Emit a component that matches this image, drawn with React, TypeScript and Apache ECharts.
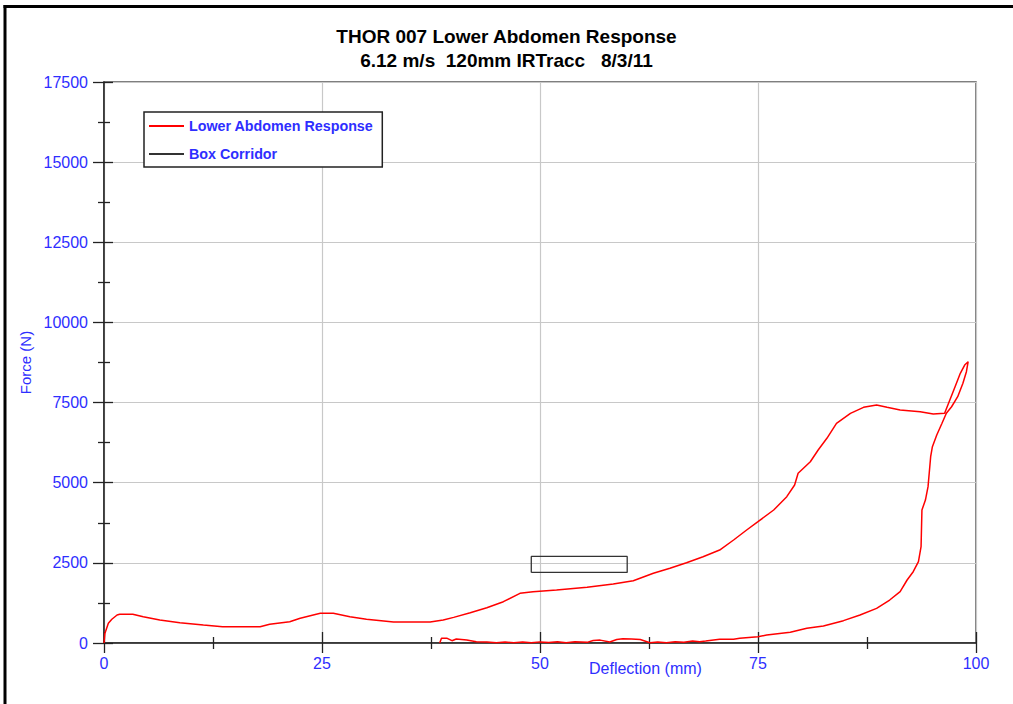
import React, { useEffect, useRef } from "react";
import * as echarts from "echarts";

const titleText = "THOR 007 Lower Abdomen Response";
const subtitleText = "6.12 m/s  120mm IRTracc   8/3/11";
const xAxisTitle = "Deflection (mm)";
const yAxisTitle = "Force (N)";
const seriesNames = ["Lower Abdomen Response", "Box Corridor"];

// Lower abdomen response: loading then unloading path (mm, N)
const responseDeflection = [
  0, 0.1, 0.5, 0.9, 1.5, 1.8, 3.3, 4.5, 6.4, 8.7, 11.4, 13.6, 17.9, 19.0, 21.3, 22.5, 24.8, 26.3,
  28.2, 30.1, 33.2, 37.4, 38.9, 40.1, 42.0, 43.9, 45.8, 47.7, 49.2, 51.9, 55.4, 58.4, 60.7, 63.0,
  64.9, 66.8, 68.7, 70.6, 72.2, 73.7, 75.0, 76.8, 78.3, 79.2, 79.6, 81.0, 81.9, 82.9, 84.0, 85.6,
  87.1, 88.6, 89.8, 91.3, 93.6, 95.1, 96.4, 97.0, 97.6, 98.2, 98.7, 99.1,
  98.9, 98.5, 97.9, 97.2, 96.6, 96.1, 95.5, 95.0, 94.8, 94.7, 94.5, 94.2, 93.8, 93.7, 93.4, 92.8,
  92.1, 91.3, 90.1, 88.6, 86.7, 84.8, 82.5, 80.6, 78.7, 76.0, 75.0, 72.9, 72.2, 70.6, 69.0, 68.3,
  67.5, 66.5, 65.5, 64.5, 63.5, 62.6, 61.5, 60.5, 59.5, 58.8, 58.0, 56.9, 56.1, 55.4, 54.0, 53.0,
  52.0, 51.0, 50.0, 49.0, 48.0, 47.0, 46.0, 45.0, 43.9, 42.7, 41.6, 40.4, 39.9, 39.3, 38.7, 38.5,
];
const responseForce = [
  0, 300, 614, 740, 873, 895, 895, 820, 717, 633, 561, 508, 508, 583, 665, 770, 926, 926,
  820, 739, 655, 655, 717, 800, 945, 1101, 1289, 1550, 1600, 1653, 1737, 1840, 1943, 2174,
  2330, 2505, 2692, 2900, 3213, 3525, 3785, 4149, 4565, 4928, 5293, 5655, 6020, 6385, 6853, 7165,
  7352, 7424, 7352, 7268, 7215, 7143, 7165, 7580, 7995, 8412, 8671, 8775,
  8463, 8100, 7683, 7370, 7165, 6853, 6488, 6124, 5811, 5499, 4876, 4460, 4149, 3004, 2536, 2224,
  1965, 1600, 1341, 1081, 873, 697, 530, 458, 333, 250, 197, 146, 115, 115, 60, 40,
  60, 20, 40, 10, 30, 10, 110, 125, 130, 110, 30, 90, 80, 20, 40, 10,
  40, 15, 35, 10, 30, 10, 30, 10, 30, 40, 94, 125, 72, 150, 147, 0,
];

// Box corridor rectangle (mm, N)
const corridorDeflection = [49, 60, 60, 49, 49];
const corridorForce = [2200, 2200, 2700, 2700, 2200];

const xTicks = { min: 0, max: 100, interval: 25 };
const yTicks = { min: 0, max: 17500, interval: 2500 };

const BLUE = "#2e2eff";
const FONT = "'Liberation Sans', Arial, sans-serif";

export default function App() {
  const ref = useRef<HTMLDivElement>(null);

  useEffect(() => {
    if (!ref.current) return;
    const chart = echarts.init(ref.current, null, { renderer: "svg" });

    const responseData = responseDeflection.map((x, i) => [x, responseForce[i]]);
    const corridorData = corridorDeflection.map((x, i) => [x, corridorForce[i]]);

    const axisLineStyle = { color: "#222", width: 1.5 };
    const tickStyle = { color: "#222", width: 1.3 };
    const plain = (v: number) => String(v);

    const baseX = {
      type: "value" as const,
      min: xTicks.min,
      max: xTicks.max,
      interval: xTicks.interval,
      position: "bottom" as const,
    };
    const baseY = {
      type: "value" as const,
      min: yTicks.min,
      max: yTicks.max,
      interval: yTicks.interval,
      position: "left" as const,
    };

    chart.setOption({
      animation: false,
      backgroundColor: "#ffffff",
      title: {
        text: titleText,
        subtext: subtitleText,
        left: "center",
        top: 26,
        padding: 0,
        itemGap: 4,
        textStyle: { fontFamily: FONT, fontSize: 19, fontWeight: "bold", color: "#000", lineHeight: 20 },
        subtextStyle: { fontFamily: FONT, fontSize: 19, fontWeight: "bold", color: "#000", lineHeight: 20 },
      },
      legend: {
        orient: "vertical",
        left: 144,
        top: 112,
        padding: [7, 9, 6, 4],
        itemWidth: 35,
        itemHeight: 14,
        itemGap: 14,
        borderColor: "#222",
        borderWidth: 1.5,
        backgroundColor: "#fff",
        itemStyle: { opacity: 0 },
        data: seriesNames,
        textStyle: { fontFamily: FONT, fontSize: 14.3, fontWeight: "bold", color: BLUE },
      },
      grid: {
        left: 104,
        right: 37,
        top: 82,
        bottom: 61,
        show: true,
        borderColor: "#555",
        borderWidth: 1.5,
        backgroundColor: "transparent",
      },
      xAxis: [
        {
          ...baseX,
          axisLine: { show: true, lineStyle: axisLineStyle },
          axisTick: { show: true, inside: false, length: 10, lineStyle: tickStyle },
          minorTick: { show: true, splitNumber: 2, length: 6, lineStyle: tickStyle },
          axisLabel: { show: true, margin: 12, color: BLUE, fontFamily: FONT, fontSize: 16, formatter: plain },
          splitLine: { show: true, lineStyle: { color: "#c8c8c8", width: 1.2 } },
        },
        {
          ...baseX,
          axisLine: { show: false },
          axisTick: { show: true, inside: true, length: 11, lineStyle: tickStyle },
          minorTick: { show: true, splitNumber: 2, length: 6, lineStyle: tickStyle },
          axisLabel: { show: false },
          splitLine: { show: false },
        },
      ],
      yAxis: [
        {
          ...baseY,
          name: yAxisTitle,
          nameLocation: "middle",
          nameGap: 71,
          nameRotate: 90,
          nameTextStyle: { color: BLUE, fontFamily: FONT, fontSize: 15 },
          axisLine: { show: true, lineStyle: axisLineStyle },
          axisTick: { show: true, inside: false, length: 11, lineStyle: tickStyle },
          minorTick: { show: true, splitNumber: 2, length: 6, lineStyle: tickStyle },
          axisLabel: { show: true, margin: 16, color: BLUE, fontFamily: FONT, fontSize: 16, formatter: plain },
          splitLine: { show: true, lineStyle: { color: "#c8c8c8", width: 1.2 } },
        },
        {
          ...baseY,
          axisLine: { show: false },
          axisTick: { show: true, inside: true, length: 9, lineStyle: tickStyle },
          minorTick: { show: true, splitNumber: 2, length: 6, lineStyle: tickStyle },
          axisLabel: { show: false },
          splitLine: { show: false },
        },
      ],
      graphic: [
        {
          type: "text",
          left: 589,
          top: 660,
          style: { text: xAxisTitle, fill: BLUE, font: `16px ${FONT}` },
        },
        {
          type: "line",
          shape: { x1: 5, y1: 5, x2: 5, y2: 704 },
          style: { stroke: "#000", lineWidth: 3 },
        },
        {
          type: "line",
          shape: { x1: 3.5, y1: 6.5, x2: 1013, y2: 6.5 },
          style: { stroke: "#000", lineWidth: 3 },
        },
      ],
      series: [
        {
          name: seriesNames[0],
          type: "line",
          xAxisIndex: 0,
          yAxisIndex: 0,
          data: responseData,
          symbol: "none",
          lineStyle: { color: "#ff0000", width: 1.5 },
          itemStyle: { color: "#ff0000" },
          z: 3,
        },
        {
          name: seriesNames[1],
          type: "line",
          xAxisIndex: 0,
          yAxisIndex: 0,
          data: corridorData,
          symbol: "none",
          lineStyle: { color: "#333", width: 1.3 },
          itemStyle: { color: "#333" },
          z: 2,
        },
      ],
    });

    return () => chart.dispose();
  }, []);

  return (
    <div
      ref={ref}
      style={{ position: "fixed", left: 0, top: 0, width: 1013, height: 704, background: "#fff" }}
    />
  );
}
